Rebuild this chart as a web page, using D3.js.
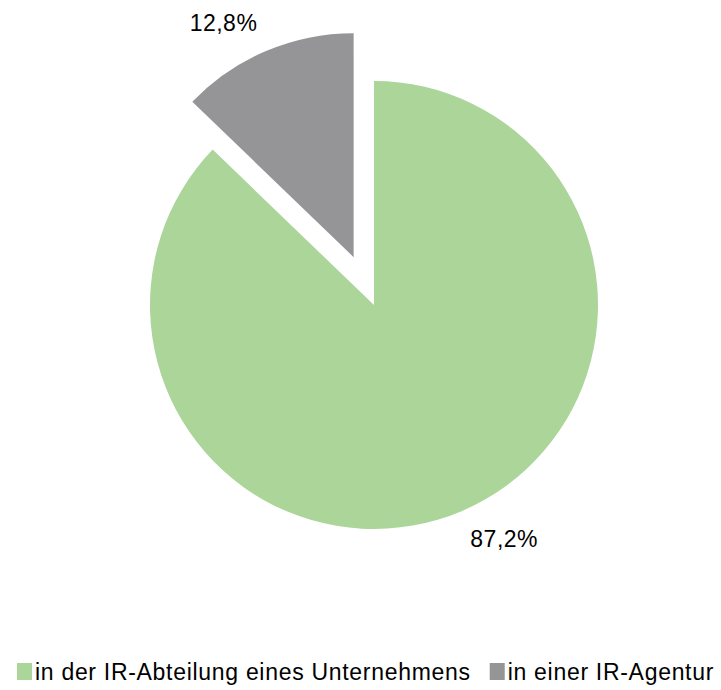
<!DOCTYPE html>
<html>
<head>
<meta charset="utf-8">
<script src="https://cdn.jsdelivr.net/npm/d3@7"></script>
<style>
  body { margin: 0; background: #fff; }
  text { font-family: "Liberation Sans", Arial, sans-serif; fill: #000; }
</style>
</head>
<body>
<svg></svg>
<script>
var categories = ["in der IR-Abteilung eines Unternehmens", "in einer IR-Agentur"];
var values = [87.2, 12.8];
var colors = ["#acd59a", "#959597"];
var exploded = [false, true];

var width = 721, height = 690;
var svg = d3.select("svg").attr("width", width).attr("height", height);

var cx = 374, cy = 305, radius = 224, explode = 52;

var pie = d3.pie().sort(null).value(function(d) { return d; });
var arc = d3.arc().innerRadius(0).outerRadius(radius);
var slices = pie(values);

function mid(d) { return (d.startAngle + d.endAngle) / 2; }
function offset(d, i) {
  var r = exploded[i] ? explode : 0;
  return [Math.sin(mid(d)) * r, -Math.cos(mid(d)) * r];
}

var g = svg.append("g").attr("transform", "translate(" + cx + "," + cy + ")");

g.selectAll("path")
  .data(slices)
  .enter().append("path")
    .attr("d", arc)
    .attr("fill", function(d, i) { return colors[i]; })
    .attr("transform", function(d, i) { var o = offset(d, i); return "translate(" + o[0] + "," + o[1] + ")"; });

// labels just outside the slices
var labelR = 268, shift = 0.105;
g.selectAll("text.lbl")
  .data(slices)
  .enter().append("text")
    .attr("class", "lbl")
    .attr("text-anchor", "middle")
    .attr("dy", "0.35em")
    .style("font-size", "23px")
    .style("letter-spacing", "0.5px")
    .attr("x", function(d, i) { return offset(d, i)[0] + Math.sin(mid(d) - shift) * labelR; })
    .attr("y", function(d, i) { return offset(d, i)[1] - Math.cos(mid(d) - shift) * labelR; })
    .text(function(d) { return d.value.toFixed(1).replace(".", ",") + "%"; });

// legend
var legend = svg.append("g").attr("transform", "translate(17,680)");
var x = 0;
categories.forEach(function(c, i) {
  var item = legend.append("g").attr("transform", "translate(" + x + ",0)");
  item.append("rect").attr("x", 0).attr("y", -17).attr("width", 15).attr("height", 17).attr("fill", colors[i]);
  var t = item.append("text").attr("x", 18).attr("y", 0)
    .style("font-size", "23px").style("letter-spacing", "0.7px").text(c);
  x += 18 + t.node().getComputedTextLength() + 19;
});
</script>
</body>
</html>
